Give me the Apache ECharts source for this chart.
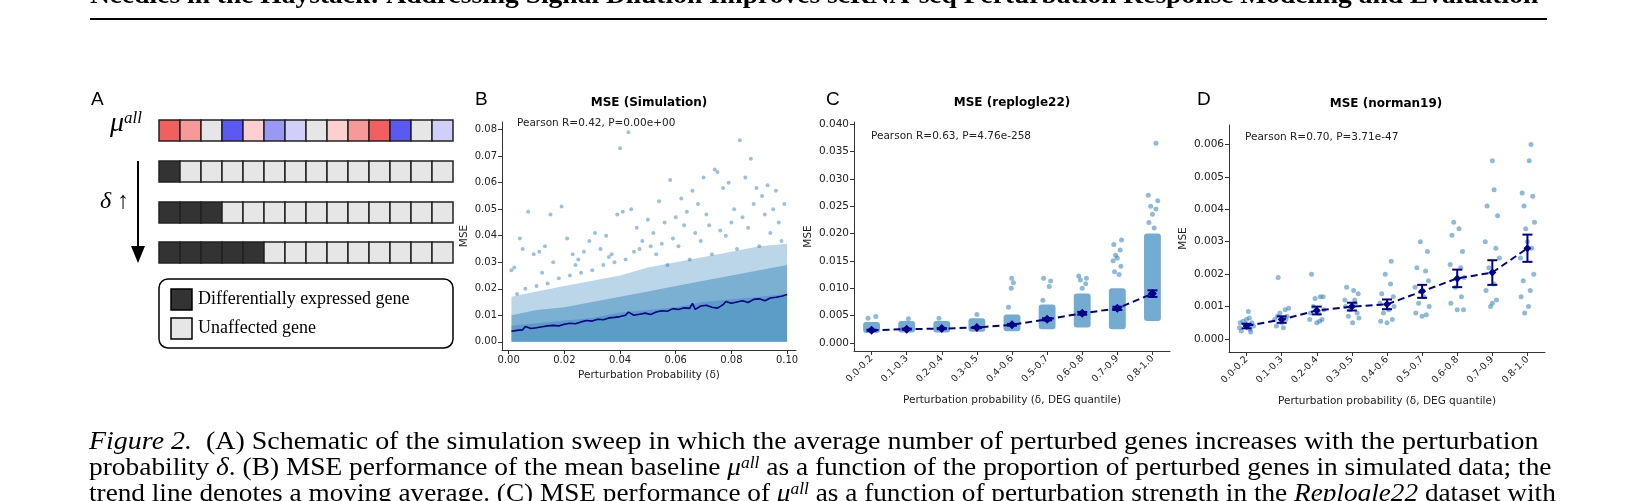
<!DOCTYPE html>
<html>
<head>
<meta charset="utf-8">
<script src="https://cdn.jsdelivr.net/npm/echarts@6/dist/echarts.min.js"></script>
<style>html,body{margin:0;padding:0;background:#fff}#container{width:1639px;height:501px}</style>
</head>
<body>
<div id="container"></div>
<script>
// ---- panel A schematic ----
var muColors = ['#f25f5f','#f79999','#e6e6e6','#5a5af2','#fcd0d0','#9999f5','#cfcff9','#e6e6e6','#fcd0d0','#f79999','#f25f5f','#5a5af2','#e6e6e6','#cfcff9'];
var deCounts = [1, 3, 5];

// ---- panel B (simulation) ----
var bandX = [0.001,0.01,0.02,0.03,0.04,0.05,0.06,0.07,0.08,0.09,0.10];
var haloTop = [0.017,0.019,0.021,0.023,0.025,0.028,0.030,0.032,0.034,0.036,0.037];
var coreTop = [0.010,0.012,0.013,0.015,0.017,0.019,0.021,0.023,0.025,0.027,0.029];
var denseTop = [0.006,0.007,0.008,0.009,0.011,0.012,0.013,0.015,0.016,0.017,0.018];
var simPoints = [[0.001,0.027],[0.002,0.028],[0.004,0.039],[0.005,0.035],[0.007,0.049],[0.009,0.033],[0.011,0.034],[0.013,0.036],[0.015,0.048],[0.016,0.03],[0.019,0.051],[0.021,0.039],[0.023,0.033],[0.025,0.031],[0.027,0.034],[0.029,0.038],[0.031,0.041],[0.033,0.035],[0.035,0.04],[0.037,0.033],[0.039,0.048],[0.040,0.073],[0.041,0.049],[0.043,0.079],[0.044,0.05],[0.046,0.043],[0.048,0.038],[0.05,0.046],[0.052,0.041],[0.054,0.053],[0.056,0.045],[0.058,0.061],[0.06,0.047],[0.062,0.054],[0.064,0.049],[0.066,0.057],[0.068,0.052],[0.07,0.062],[0.072,0.044],[0.074,0.065],[0.075,0.064],[0.077,0.058],[0.079,0.06],[0.081,0.05],[0.083,0.076],[0.085,0.062],[0.087,0.069],[0.089,0.058],[0.091,0.055],[0.093,0.059],[0.095,0.05],[0.097,0.045],[0.099,0.052],[0.096,0.057],[0.092,0.048],[0.088,0.052],[0.084,0.047],[0.08,0.045],[0.076,0.042],[0.071,0.048],[0.067,0.041],[0.063,0.044],[0.059,0.039],[0.055,0.037],[0.051,0.036],[0.047,0.035],[0.042,0.031],[0.038,0.03],[0.034,0.029],[0.03,0.027],[0.026,0.026],[0.022,0.025],[0.018,0.024],[0.014,0.022],[0.01,0.021],[0.006,0.02],[0.003,0.018],[0.012,0.026],[0.024,0.029],[0.036,0.032],[0.045,0.034],[0.053,0.033],[0.061,0.036],[0.069,0.038],[0.078,0.04],[0.086,0.043],[0.094,0.041],[0.098,0.038],[0.090,0.036],[0.082,0.035],[0.073,0.033],[0.065,0.031],[0.057,0.029]];
var movingAvg = [[0.001,0.0040],[0.003,0.0043],[0.005,0.0045],[0.006,0.0058],[0.008,0.0050],[0.010,0.0053],[0.012,0.0057],[0.014,0.0060],[0.016,0.0062],[0.018,0.0060],[0.020,0.0066],[0.022,0.0070],[0.024,0.0068],[0.026,0.0075],[0.028,0.0080],[0.030,0.0078],[0.032,0.0085],[0.034,0.0083],[0.036,0.0090],[0.038,0.0092],[0.040,0.0095],[0.042,0.0100],[0.043,0.0112],[0.045,0.0100],[0.047,0.0104],[0.049,0.0108],[0.051,0.0103],[0.053,0.0112],[0.055,0.0117],[0.057,0.0115],[0.059,0.0125],[0.061,0.0122],[0.063,0.0128],[0.065,0.0126],[0.066,0.0145],[0.067,0.0122],[0.069,0.0135],[0.071,0.0138],[0.073,0.0130],[0.075,0.0127],[0.077,0.0140],[0.078,0.0152],[0.080,0.0145],[0.082,0.0150],[0.084,0.0155],[0.086,0.0148],[0.088,0.0160],[0.090,0.0162],[0.092,0.0155],[0.094,0.0165],[0.096,0.0168],[0.098,0.0172],[0.100,0.0178]];

// ---- panels C and D ----
var quantiles = ['0.0-0.2','0.1-0.3','0.2-0.4','0.3-0.5','0.4-0.6','0.5-0.7','0.6-0.8','0.7-0.9','0.8-1.0'];
var repMean = [0.0023,0.0025,0.0026,0.0028,0.0033,0.0043,0.0054,0.0063,0.0090];
var repErr = [0.0001,0.0001,0.0001,0.0001,0.00015,0.0002,0.00025,0.0003,0.0006];
var repLo = [0.0018,0.0019,0.0019,0.0020,0.0021,0.0025,0.0028,0.0025,0.0040];
var repHi = [0.0038,0.0040,0.0040,0.0045,0.0052,0.0070,0.0090,0.0100,0.0200];
var repOut = [[0,0.0045],[0,0.0048],[1,0.0044],[2,0.0045],[3,0.0052],[4,0.0065],[4,0.0100],[4,0.0110],[4,0.0118],
  [5,0.0078],[5,0.0103],[5,0.0113],[5,0.0118],[6,0.0100],[6,0.0108],[6,0.0115],[6,0.0122],[6,0.0118],
  [7,0.0125],[7,0.0130],[7,0.0140],[7,0.0150],[7,0.0155],[7,0.0160],[7,0.0170],[7,0.0180],[7,0.0188],
  [8,0.0210],[8,0.0220],[8,0.0235],[8,0.0245],[8,0.0250],[8,0.0260],[8,0.0270],[8,0.0365]];
var repOutOff = [-0.1,0.12,0.05,-0.08,0.0,-0.1,-0.02,0.04,-0.01,-0.12,0.06,0.1,-0.1,0.0,0.1,-0.05,-0.1,0.12,0.05,-0.08,0.1,-0.12,0.0,-0.05,0.08,-0.1,0.12,0.05,-0.1,0.0,0.1,-0.05,0.15,-0.12,0.1];

var normMean = [0.0004,0.0006,0.00088,0.0010,0.00107,0.00147,0.00187,0.00205,0.0028];
var normErr = [0.00007,0.0001,0.00012,0.00012,0.00015,0.0002,0.00027,0.00038,0.00042];
var normPts = [
  [[-0.15,0.00025],[0.1,0.0003],[-0.05,0.00045],[0.15,0.0005],[0.0,0.0006],[-0.2,0.00035],[0.2,0.0004],[0.05,0.00085],[-0.1,0.00055],[0.12,0.00022],[-0.18,0.0005],[0.08,0.00065]],
  [[-0.1,0.0019],[0.1,0.0009],[-0.15,0.0004],[0.0,0.0005],[0.15,0.0007],[-0.05,0.0008],[0.2,0.00095],[-0.2,0.0006],[0.05,0.00035],[0.12,0.0006],[-0.12,0.0007]],
  [[-0.15,0.002],[0.1,0.0013],[-0.05,0.00125],[0.2,0.0009],[-0.2,0.0006],[0.0,0.0005],[0.15,0.0006],[-0.1,0.001],[0.05,0.0008],[0.18,0.0013],[-0.18,0.0008],[0.08,0.00055]],
  [[-0.15,0.0016],[0.05,0.0015],[0.18,0.0014],[-0.2,0.0012],[0.1,0.0011],[-0.05,0.0009],[0.15,0.0008],[-0.1,0.0007],[0.02,0.0005],[0.2,0.00065],[-0.18,0.001],[0.08,0.0012]],
  [[0.12,0.0024],[-0.05,0.002],[0.1,0.0017],[-0.15,0.0014],[0.18,0.0013],[-0.2,0.0011],[0.05,0.0009],[-0.1,0.0008],[0.15,0.0006],[-0.18,0.00055],[0.0,0.0005],[0.2,0.001]],
  [[-0.05,0.003],[0.15,0.0027],[-0.15,0.0022],[0.1,0.0021],[0.18,0.0018],[-0.2,0.0016],[0.05,0.0013],[-0.1,0.0011],[0.2,0.001],[-0.18,0.0008],[0.0,0.0007],[0.12,0.00075]],
  [[-0.1,0.0036],[0.05,0.0034],[-0.15,0.0032],[0.15,0.0027],[-0.2,0.0023],[0.1,0.0022],[0.2,0.0019],[-0.05,0.0016],[0.12,0.0013],[-0.18,0.0011],[0.0,0.0009],[0.18,0.0009]],
  [[0.0,0.0055],[0.05,0.0046],[-0.15,0.0041],[0.15,0.0038],[-0.2,0.003],[0.1,0.0028],[0.2,0.0025],[-0.1,0.0022],[0.05,0.0017],[-0.18,0.0015],[0.12,0.0012],[0.0,0.0011],[-0.05,0.001]],
  [[0.1,0.006],[0.05,0.0055],[-0.15,0.0045],[0.15,0.0044],[-0.1,0.0041],[0.2,0.0036],[-0.05,0.0034],[0.0,0.003],[0.12,0.0028],[-0.2,0.0025],[0.18,0.002],[-0.12,0.0018],[0.08,0.0015],[-0.18,0.0013],[0.03,0.001],[-0.08,0.0008]]
];

var SANS = 'DejaVu Sans';
var SERIF = 'Liberation Serif';
var BLUE = '#1f77b4';
var NAVY = '#00008b';

var dom = document.getElementById('container');
var myChart = echarts.init(dom);

// graphic elements for panel A, header and caption
var g = [];
g.push({type:'text', x:90, y:-16, scaleX:1.1, style:{text:'Needles in the Haystack: Addressing Signal Dilution Improves scRNA-seq Perturbation Response Modeling and Evaluation', font:'bold 25px ' + SERIF, fill:'#000'}});
g.push({type:'rect', shape:{x:90, y:18, width:1457, height:2}, style:{fill:'#000'}});

var cw = 21, ch = 21, x0 = 159;
var rowsY = [120, 161, 202, 242];
muColors.forEach(function (c, i) {
  g.push({type:'rect', shape:{x:x0 + i*cw, y:rowsY[0], width:cw, height:ch}, style:{fill:c, stroke:'#222', lineWidth:1.5}});
});
deCounts.forEach(function (n, r) {
  for (var i = 0; i < muColors.length; i++) {
    g.push({type:'rect', shape:{x:x0 + i*cw, y:rowsY[r+1], width:cw, height:ch}, style:{fill: i < n ? '#333333' : '#e6e6e6', stroke:'#222', lineWidth:1.5}});
  }
});
g.push({type:'text', x:91, y:90, style:{text:'A', font:'19px Liberation Sans', fill:'#000'}});
g.push({type:'text', x:110, y:110, style:{
  text:'{m|μ}{s|all}', rich:{m:{font:'italic 28px ' + SERIF, fill:'#000'}, s:{font:'italic 17px ' + SERIF, fill:'#000', verticalAlign:'top'}}}});
g.push({type:'text', x:100, y:190, style:{text:'δ ↑', font:'italic 24px ' + SERIF, fill:'#000'}});
g.push({type:'line', shape:{x1:138, y1:161, x2:138, y2:250}, style:{stroke:'#000', lineWidth:2}});
g.push({type:'polygon', shape:{points:[[131,246],[145,246],[138,263]]}, style:{fill:'#000'}});
g.push({type:'rect', shape:{x:159, y:279, width:294, height:69, r:9}, style:{fill:'#fff', stroke:'#000', lineWidth:1.5}});
g.push({type:'rect', shape:{x:171, y:289, width:21, height:21}, style:{fill:'#333333', stroke:'#000', lineWidth:1.5}});
g.push({type:'rect', shape:{x:171, y:318, width:21, height:21}, style:{fill:'#e6e6e6', stroke:'#000', lineWidth:1.5}});
g.push({type:'text', x:198, y:290, style:{text:'Differentially expressed gene', font:'18px ' + SERIF, fill:'#000'}});
g.push({type:'text', x:198, y:319, style:{text:'Unaffected gene', font:'18px ' + SERIF, fill:'#000'}});

// panel letters, titles, annotations
[['B',475,90],['C',826,90],['D',1197,90]].forEach(function (p) {
  g.push({type:'text', x:p[1], y:p[2], style:{text:p[0], font:'19px Liberation Sans', fill:'#000'}});
});
[['MSE (Simulation)',649,103],['MSE (replogle22)',1012,103],['MSE (norman19)',1386,104]].forEach(function (p) {
  g.push({type:'text', x:p[1], y:p[2], style:{text:p[0], font:'bold 12px ' + SANS, fill:'#000', align:'center', verticalAlign:'middle'}});
});
[['Pearson R=0.42, P=0.00e+00',517,123],['Pearson R=0.63, P=4.76e-258',871,136],['Pearson R=0.70, P=3.71e-47',1245,137]].forEach(function (p) {
  g.push({type:'text', x:p[1], y:p[2], style:{text:p[0], font:'10.5px ' + SANS, fill:'#222', verticalAlign:'middle'}});
});

// caption
var cap = {n:{font:'25px ' + SERIF, fill:'#000'}, i:{font:'italic 25px ' + SERIF, fill:'#000'}, s:{font:'italic 16px ' + SERIF, fill:'#000', verticalAlign:'top'}};
g.push({type:'text', x:89, y:430, scaleX:1.118, style:{rich:cap, text:'{i|Figure 2.}{n|  (A) Schematic of the simulation sweep in which the average number of perturbed genes increases with the perturbation}'}});
g.push({type:'text', x:89, y:456, scaleX:1.096, style:{rich:cap, text:'{n|probability }{i|δ}{n|. (B) MSE performance of the mean baseline }{i|μ}{s|all}{n| as a function of the proportion of perturbed genes in simulated data; the}'}});
g.push({type:'text', x:89, y:482, scaleX:1.09, style:{rich:cap, text:'{n|trend line denotes a moving average. (C) MSE performance of }{i|μ}{s|all}{n| as a function of perturbation strength in the }{i|Replogle22}{n| dataset with}'}});

function valAxis(grid, min, max, ticks, digits, name, nameGap, fs) {
  return {
    type:'value', gridIndex:grid, min:min, max:max, name:name, nameLocation:'middle', nameGap:nameGap,
    nameTextStyle:{fontFamily:SANS, fontSize:10.5, color:'#222'},
    splitLine:{show:false},
    axisLine:{show:true, onZero:false, lineStyle:{color:'#333', width:1}},
    axisTick:{show:true, length:4, customValues:ticks, lineStyle:{color:'#333'}},
    axisLabel:{customValues:ticks, fontFamily:SANS, fontSize:fs, color:'#222', margin:5, formatter:function (v) { return v.toFixed(digits); }}
  };
}
function catAxis(grid, name) {
  return {
    type:'category', gridIndex:grid, position:'bottom', data:quantiles, boundaryGap:true, name:name, nameLocation:'middle', nameGap:44,
    nameTextStyle:{fontFamily:SANS, fontSize:10.5, color:'#222'},
    axisLine:{show:true, lineStyle:{color:'#333'}},
    axisTick:{show:true, alignWithLabel:true, length:4, lineStyle:{color:'#333'}},
    axisLabel:{rotate:45, fontFamily:SANS, fontSize:9.5, color:'#222', margin:6, interval:0}
  };
}
function hiddenX(grid) {
  return {type:'value', gridIndex:grid, position:'bottom', min:-0.5, max:8.5, show:false};
}

function errRender(params, api) {
  var x = api.value(0), m = api.value(1), e = api.value(2);
  var top = api.coord([x, m + e]), bot = api.coord([x, m - e]);
  var style = {stroke:NAVY, lineWidth:2};
  return {type:'group', children:[
    {type:'line', shape:{x1:top[0], y1:top[1], x2:bot[0], y2:bot[1]}, style:style},
    {type:'line', shape:{x1:top[0]-5, y1:top[1], x2:top[0]+5, y2:top[1]}, style:style},
    {type:'line', shape:{x1:bot[0]-5, y1:bot[1], x2:bot[0]+5, y2:bot[1]}, style:style}
  ]};
}
function bandRender(params, api) {
  var x = api.value(0);
  var a = api.coord([x - 0.24, api.value(2)]), b = api.coord([x + 0.24, api.value(1)]);
  return {type:'rect', shape:{x:a[0], y:a[1], width:b[0]-a[0], height:b[1]-a[1], r:3}, style:{fill:'rgba(31,119,180,0.62)'}};
}

function pairs(xs, ys) { return xs.map(function (x, i) { return [x, ys[i]]; }); }
function areaSeries(ys, op) {
  return {type:'line', xAxisIndex:0, yAxisIndex:0, data:pairs(bandX, ys), symbol:'none',
    lineStyle:{width:0}, areaStyle:{color:BLUE, opacity:op}, silent:true, z:1};
}

var repPts = repOut.map(function (p, i) { return [p[0] + repOutOff[i], p[1]]; });
var normFlat = [];
normPts.forEach(function (list, i) { list.forEach(function (p) { normFlat.push([i + p[0], p[1]]); }); });

var option = {
  animation:false,
  graphic:g,
  grid:[
    {left:502, top:122, width:294, height:228},
    {left:854, top:122, width:316, height:229},
    {left:1229, top:125, width:316, height:227}
  ],
  xAxis:[
    valAxis(0, -0.0024, 0.1032, [0,0.02,0.04,0.06,0.08,0.10], 2, 'Perturbation Probability (δ)', 20, 10),
    hiddenX(1),
    catAxis(1, 'Perturbation probability (δ, DEG quantile)'),
    hiddenX(2),
    catAxis(2, 'Perturbation probability (δ, DEG quantile)')
  ],
  yAxis:[
    valAxis(0, -0.0031, 0.0829, [0,0.01,0.02,0.03,0.04,0.05,0.06,0.07,0.08], 2, 'MSE', 32, 10),
    valAxis(1, -0.0015, 0.0404, [0,0.005,0.01,0.015,0.02,0.025,0.03,0.035,0.04], 3, 'MSE', 40, 10.5),
    valAxis(2, -0.0004, 0.0066, [0,0.001,0.002,0.003,0.004,0.005,0.006], 3, 'MSE', 40, 10.5)
  ],
  series:[
    areaSeries(haloTop, 0.3),
    areaSeries(coreTop, 0.4),
    areaSeries(denseTop, 0.35),
    {type:'scatter', xAxisIndex:0, yAxisIndex:0, data:simPoints, symbolSize:4, itemStyle:{color:BLUE, opacity:0.45}, z:2},
    {type:'line', xAxisIndex:0, yAxisIndex:0, data:movingAvg, symbol:'none', lineStyle:{color:NAVY, width:1.6}, z:4},

    {type:'custom', xAxisIndex:1, yAxisIndex:1, data:repMean.map(function (m, i) { return [i, repLo[i], repHi[i]]; }), renderItem:bandRender, z:1},
    {type:'scatter', xAxisIndex:1, yAxisIndex:1, data:repPts, symbolSize:5, itemStyle:{color:BLUE, opacity:0.5}, z:2},
    {type:'line', xAxisIndex:1, yAxisIndex:1, data:pairs([0,1,2,3,4,5,6,7,8], repMean), symbol:'diamond', symbolSize:9,
      itemStyle:{color:NAVY}, lineStyle:{color:NAVY, width:2, type:[7,4]}, z:4},
    {type:'custom', xAxisIndex:1, yAxisIndex:1, data:repMean.map(function (m, i) { return [i, m, repErr[i]]; }), renderItem:errRender, z:5},

    {type:'scatter', xAxisIndex:3, yAxisIndex:2, data:normFlat, symbolSize:5, itemStyle:{color:BLUE, opacity:0.5}, z:2},
    {type:'line', xAxisIndex:3, yAxisIndex:2, data:pairs([0,1,2,3,4,5,6,7,8], normMean), symbol:'diamond', symbolSize:8,
      itemStyle:{color:NAVY}, lineStyle:{color:NAVY, width:2, type:[7,4]}, z:4},
    {type:'custom', xAxisIndex:3, yAxisIndex:2, data:normMean.map(function (m, i) { return [i, m, normErr[i]]; }), renderItem:errRender, z:5}
  ]
};

myChart.setOption(option);
window.onresize = function () { myChart.resize(); };
</script>
</body>
</html>
